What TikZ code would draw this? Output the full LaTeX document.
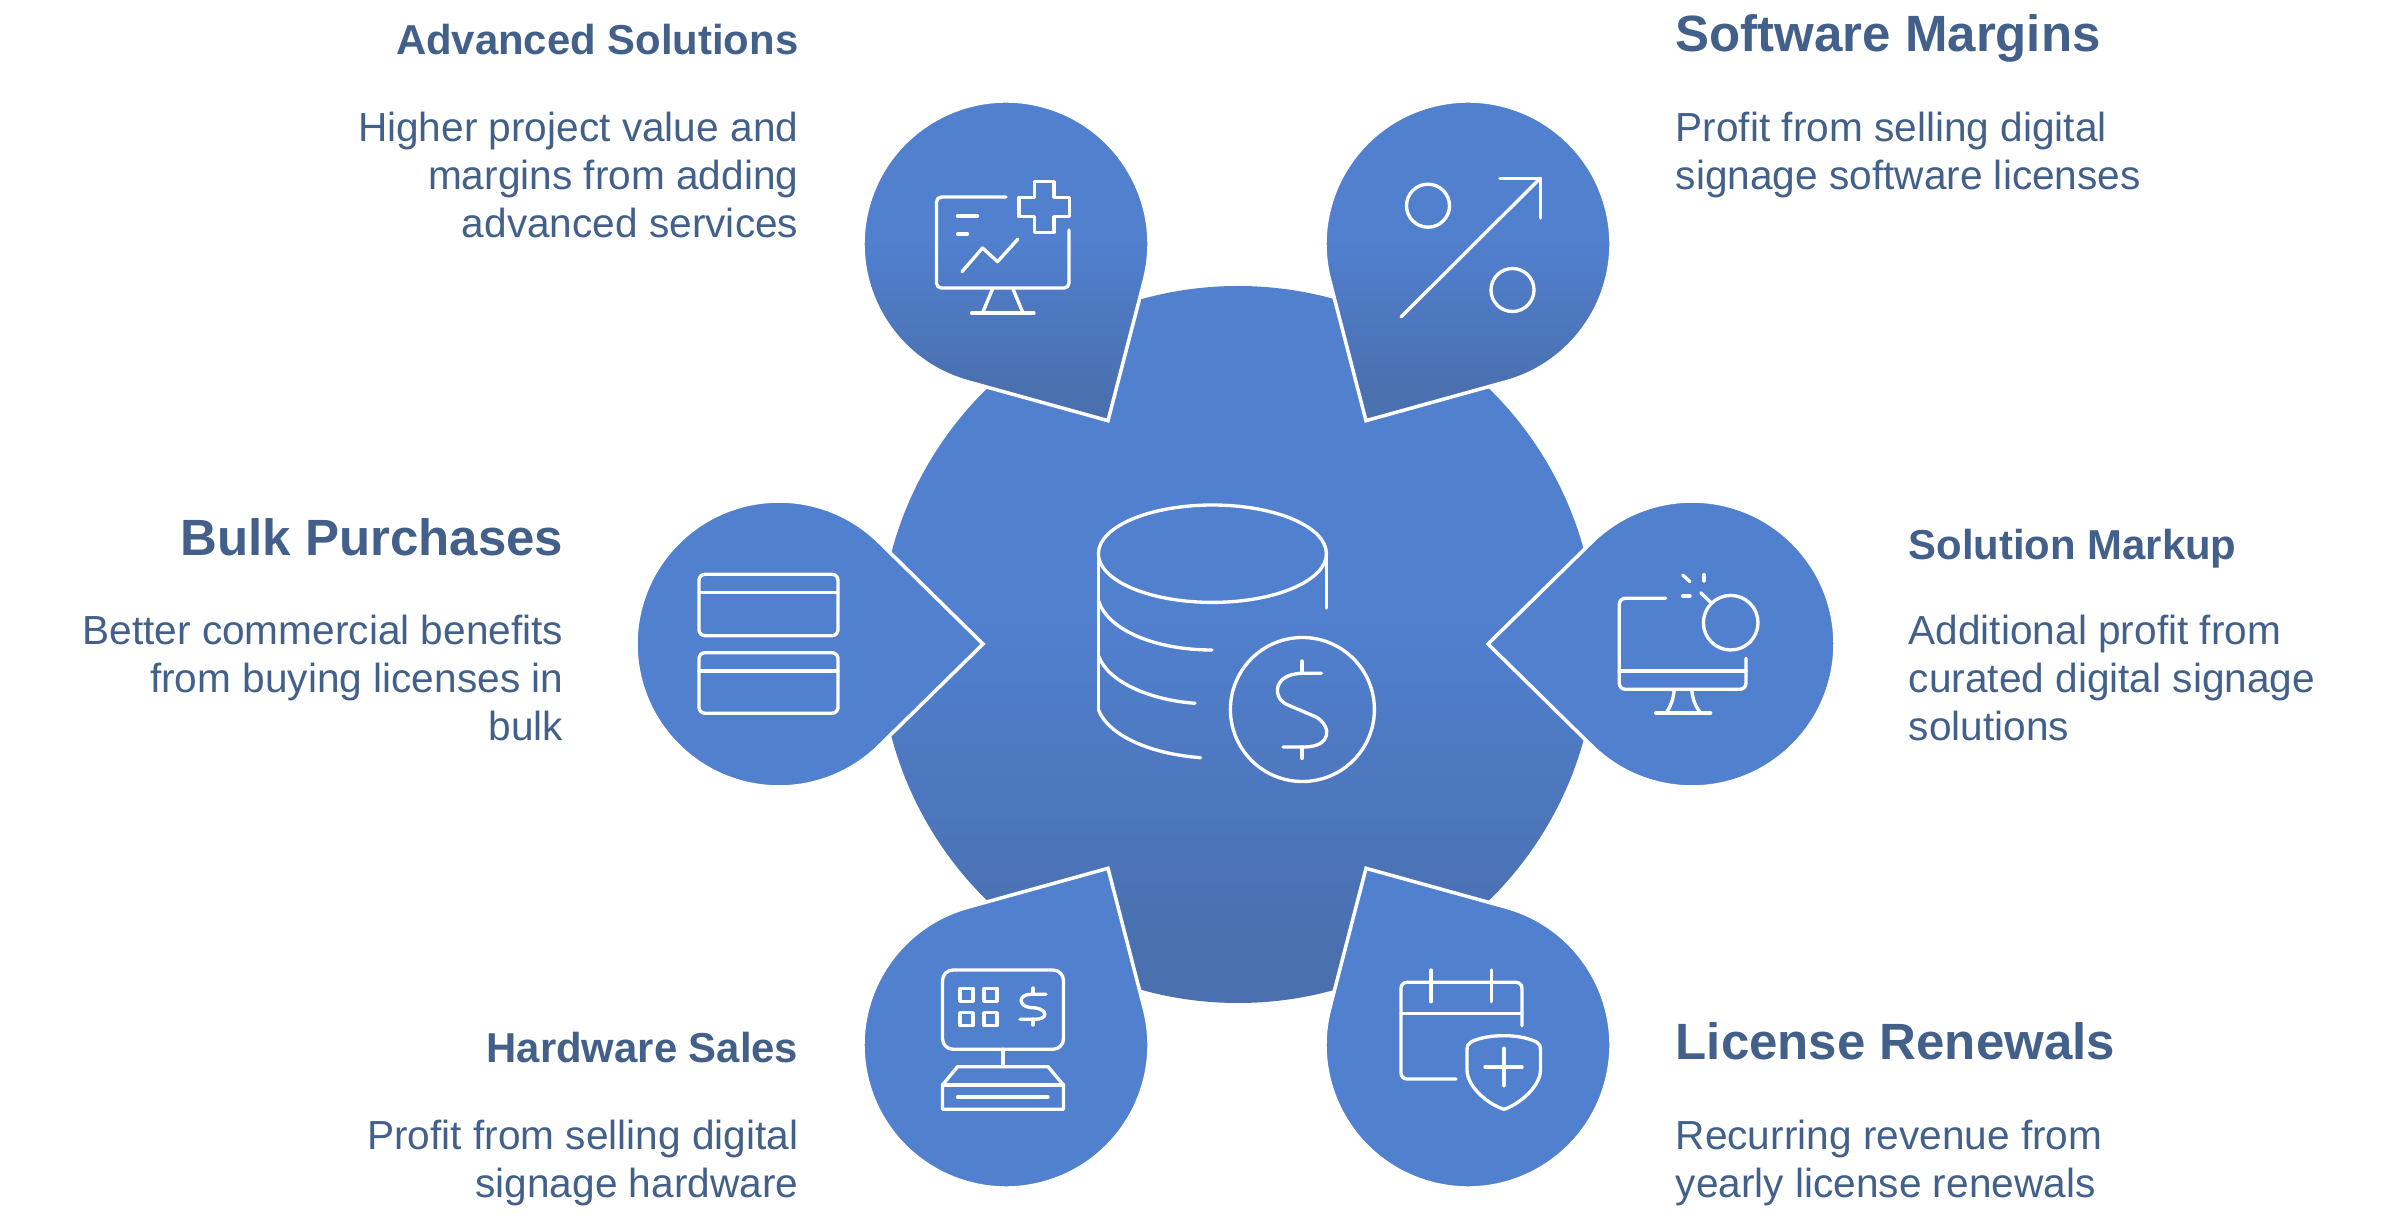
\documentclass[tikz,border=0pt]{standalone}
\usepackage{fontspec}
\usepackage{xcolor}
\setmainfont{Liberation Sans}
\definecolor{pinblue}{HTML}{5180CF}
\definecolor{deepblue}{HTML}{4A70B0}
\definecolor{inkblue}{HTML}{426089}
\pgfdeclareverticalshading{discshade}{100bp}{color(0bp)=(deepblue); color(30bp)=(deepblue); color(52bp)=(pinblue); color(100bp)=(pinblue)}
\newcommand{\pinblob}[4]{\draw[pinf,#4,shift={(#1,#2)}] (#3:204) -- (#3+46:143) arc[start angle=#3+46, end angle=#3+314, radius=143] -- cycle;}

\begin{document}
\begin{tikzpicture}[
    x = .01cm,
    y = .01cm,
    yscale = -1,
    pinf/.style = {
      draw=white,
      line width=1pt,
      line join=miter
    },
    flat/.style = {
      fill=pinblue
    },
    shaded/.style = {
      shading=discshade
    },
    ico/.style = {
      draw=white,
      line width=.95pt,
      line cap=round,
      line join=round
    },
    head/.style = {
      font=\fontsize{14.5pt}{17pt}\selectfont\bfseries,
      text=inkblue,
      inner sep=0pt
    },
    subh/.style = {
      font=\fontsize{11.9pt}{14pt}\selectfont\bfseries,
      text=inkblue,
      inner sep=0pt
    },
    body/.style = {
      font=\fontsize{11.55pt}{13.65pt}\selectfont,
      text=inkblue,
      inner sep=0pt
    }
  ]
    \useasboundingbox (0,0) rectangle (2405,1219);
    % big disc
    \path[shaded] (1238,644.5) circle[radius=358.5];
    % pins
    \pinblob{779}{644}{0}{flat}
    \pinblob{1692}{644}{180}{flat}
    \pinblob{1006}{244}{60}{shaded}
    \pinblob{1468}{244}{120}{shaded}
    \pinblob{1006}{1045}{-60}{flat}
    \pinblob{1468}{1045}{-120}{flat}

    % texts
    \node[subh, anchor=base east] (advt) at (799,55) {Advanced Solutions};
    \node[body, anchor=base east, align=right] (advb) at (799,238) {Higher project value and\\margins from adding\\advanced services};
    \node[head, anchor=base west] (swt) at (1675,52) {Software Margins};
    \node[body, anchor=base west, align=left] (swb) at (1675,190) {Profit from selling digital\\signage software licenses};
    \node[head, anchor=base east] (bulkt) at (564,556) {Bulk Purchases};
    \node[body, anchor=base east, align=right] (bulkb) at (564,741) {Better commercial benefits\\from buying licenses in\\bulk};
    \node[subh, anchor=base west] (solt) at (1908,560) {Solution Markup};
    \node[body, anchor=base west, align=left] (solb) at (1908,741) {Additional profit from\\curated digital signage\\solutions};
    \node[subh, anchor=base east] (hwt) at (799,1063) {Hardware Sales};
    \node[body, anchor=base east, align=right] (hwb) at (799,1198) {Profit from selling digital\\signage hardware};
    \node[head, anchor=base west] (lict) at (1675,1060) {License Renewals};
    \node[body, anchor=base west, align=left] (licb) at (1675,1198) {Recurring revenue from\\yearly license renewals};

    % database and coin
    \draw[ico] (1212.4,553.7) ellipse[x radius=114, y radius=48.7];
    \draw[ico] (1098.6,553.7) -- (1098.6,710);
    \draw[ico] (1326.6,553.7) -- (1326.6,608);
    \draw[ico] (1098.6,601) .. controls (1108,630) and (1155,650) .. (1212,650);
    \draw[ico] (1098.6,656) .. controls (1108,682) and (1150,700) .. (1195,703.3);
    \draw[ico] (1098.6,710) .. controls (1108,735) and (1150,754) .. (1200.6,757.7);
    \draw[ico] (1302.4,709.5) circle[radius=72];
    \draw[ico] (1302,661) -- (1302,673);
    \draw[ico] (1302,747) -- (1302,758.3);
    \draw[ico] (1321.5,673.3) -- (1303,673.3) .. controls (1272,673.3) and (1272,699) .. (1288,705) -- (1316,717) .. controls (1332,726) and (1332,747) .. (1304,747) -- (1283,747);

    % advanced solutions icon
    \draw[ico, rounded corners=1.4pt] (1006,197) -- (936.5,197) -- (936.5,288) -- (1069,288) -- (1069,230);
    \draw[ico] (957.5,216) -- (977.5,216);
    \draw[ico] (957.5,234) -- (967.5,234);
    \draw[ico] (962,271.7) -- (982.5,248) -- (997.5,261.7) -- (1018,239);
    \draw[ico] (992.5,289) -- (982.5,313);
    \draw[ico] (1013,289) -- (1023,313);
    \draw[ico] (971.5,313) -- (1034,313);
    \draw[ico] (1034.5,181.7) -- (1054,181.7) -- (1054,197.3) -- (1069.5,197.3) -- (1069.5,216.7) -- (1054,216.7) -- (1054,232.7) -- (1034.5,232.7) -- (1034.5,216.7) -- (1019,216.7) -- (1019,197.3) -- (1034.5,197.3) -- cycle;

    % percent icon
    \draw[ico] (1428,205.7) circle[radius=21.5];
    \draw[ico] (1512.5,290) circle[radius=21.5];
    \draw[ico] (1401,317) -- (1540.5,178);
    \draw[ico] (1500,178.5) -- (1540.5,178.5) -- (1540.5,218);

    % cards icon
    \draw[ico, rounded corners=1.7pt] (699,574.3) rectangle (838,635.7);
    \draw[ico] (699,592.7) -- (838,592.7);
    \draw[ico, rounded corners=1.7pt] (699,652.7) rectangle (838,713.3);
    \draw[ico] (699,671) -- (838,671);

    % markup icon
    \draw[ico, rounded corners=1.7pt] (1665.7,598.3) -- (1619.3,598.3) -- (1619.3,689.3) -- (1746,689.3) -- (1746,658.3);
    \draw[ico] (1619.3,671) -- (1746,671);
    \draw[ico] (1674.3,690) .. controls (1673,700) and (1671,706) .. (1666,713);
    \draw[ico] (1691.7,690) .. controls (1693,700) and (1695,706) .. (1700.7,713);
    \draw[ico] (1655.7,713) -- (1710.7,713);
    \draw[ico] (1730.7,622.7) circle[radius=27.3];
    \draw[ico] (1700.7,592.7) -- (1711,602.7);
    \draw[ico] (1682.7,575) -- (1690,581.7);
    \draw[ico] (1704,574.7) -- (1704,581);
    \draw[ico] (1682.7,596) -- (1690,596);

    % hardware icon
    \draw[ico, rounded corners=3pt] (942.5,970) rectangle (1063.5,1049.3);
    \foreach \sx in {960,984}
      \foreach \sy in {988.3,1012.7}
        \draw[ico] (\sx,\sy) rectangle ++(13,13);
    \draw[ico] (1033,988) -- (1033,994);
    \draw[ico] (1033,1019) -- (1033,1025);
    \draw[ico] (1046,994.3) -- (1031,994.3) .. controls (1018,994.3) and (1018,1006) .. (1030,1007.5) -- (1036,1008) .. controls (1048,1010) and (1048,1019.3) .. (1035,1019.3) -- (1020,1019.3);
    \draw[ico] (1003,1049.3) -- (1003,1066.7);
    \draw[ico] (957.5,1066.7) -- (1048,1066.7) -- (1063.5,1085) -- (1063.5,1109.3) -- (942.5,1109.3) -- (942.5,1085) -- cycle;
    \draw[ico] (942.5,1085) -- (1063.5,1085);
    \draw[ico] (957.5,1097) -- (1048,1097);

    % calendar icon
    \draw[ico, rounded corners=1.7pt] (1456,1079) -- (1401,1079) -- (1401,982.3) -- (1522,982.3) -- (1522,1025.7);
    \draw[ico] (1401,1013.3) -- (1522,1013.3);
    \draw[ico] (1431,970) -- (1431,1001.7);
    \draw[ico] (1491.5,970) -- (1491.5,1001.7);
    \draw[ico] (1504,1035.7) .. controls (1487,1035.7) and (1477,1039) .. (1471,1042) .. controls (1468,1043.5) and (1467,1046) .. (1467,1050) -- (1467,1070) .. controls (1467,1086) and (1487,1104) .. (1504,1109.3) .. controls (1520,1104) and (1540.5,1086) .. (1540.5,1070) -- (1540.5,1050) .. controls (1540.5,1046) and (1539.5,1043.5) .. (1536.5,1042) .. controls (1530,1039) and (1520,1035.7) .. (1504,1035.7) -- cycle;
    \draw[ico] (1504,1048.3) -- (1504,1085.7);
    \draw[ico] (1485,1067) -- (1522,1067);
  \end{tikzpicture}
\end{document}
